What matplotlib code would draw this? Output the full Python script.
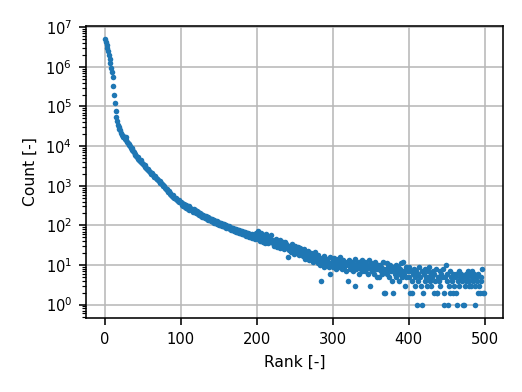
import numpy as np
import matplotlib
matplotlib.use("Agg")
import matplotlib.pyplot as plt

output_file = "out.png"

# counts per rank (rank 0 .. 499)
counts_head = [
    5000000, 4300000, 3600000, 3000000, 2500000, 2000000, 1600000, 1250000, 950000, 750000,
    560000, 320000, 200000, 120000, 75000, 53000, 42000, 34000, 30000, 27000,
    25000, 22000, 19000, 18500, 17000, 16500, 15000, 17000, 14500, 13000,
    12000, 11500, 10500, 10000, 9200, 8800, 8000, 7600, 7000, 6500,
    6000, 5600, 5200, 5400, 4800, 4500, 4200, 4400, 3900, 3700,
    3500, 3300, 3400, 3000, 2800, 2700, 2500, 2600, 2300, 2200,
    2100, 2000, 2150, 1900, 1800, 1700, 1750, 1600, 1500, 1450,
    1400, 1300, 1350, 1200, 1150, 1100, 1050, 1000, 980, 900,
    850, 820, 760, 700, 720, 650, 620, 600, 560, 580,
    530, 500, 490, 470, 480, 440, 420, 430, 400, 380,
]
counts_mid = [
    380, 330, 360, 300, 345, 290, 330, 275, 310, 260, 300, 250, 280, 240, 265, 250, 220, 255, 215, 240,
    205, 230, 190, 215, 180, 205, 170, 195, 165, 185, 160, 175, 150, 168, 145, 160, 140, 155, 135, 148,
    130, 145, 125, 138, 118, 132, 112, 128, 108, 122, 105, 118, 100, 115, 98, 110, 94, 106, 90, 102,
    88, 99, 84, 95, 80, 92, 78, 88, 75, 85, 72, 82, 70, 80, 68, 78, 66, 75, 64, 72,
    62, 74, 60, 70, 58, 68, 55, 66, 54, 64, 52, 62, 50, 60, 48, 58, 47, 56, 45, 66,
    52, 72, 45, 60, 40, 66, 43, 55, 38, 58, 46, 36, 62, 42, 49, 35, 52, 41, 56, 37,
    44, 35, 30, 40, 33, 46, 28, 38, 31, 36, 42, 27, 34, 29, 39, 32, 25, 37, 30, 33,
    28, 16, 31, 24, 27, 21, 33, 22, 26, 19, 30, 23, 25, 20, 29, 22, 18, 27, 24, 21,
    22, 17, 25, 14, 19, 21, 15, 18, 23, 13, 16, 20, 14, 17, 12, 19, 15, 21, 13, 16,
    18, 11, 14, 10, 13, 4, 15, 12, 9, 17, 11, 13, 10, 14, 12, 9, 6, 16, 11, 10,
]
counts_tail = [
    13, 9, 15, 11, 8, 12, 10, 14, 9, 11, 16, 10, 8, 12, 13, 9, 11, 10, 7, 12,
    4, 10, 13, 8, 11, 9, 12, 7, 10, 3, 14, 8, 11, 9, 6, 12, 10, 8, 13, 7,
    11, 9, 7, 12, 8, 10, 6, 9, 13, 3, 8, 11, 7, 10, 9, 6, 12, 8, 5, 10,
    8, 5, 10, 7, 9, 6, 12, 8, 2, 2, 7, 11, 6, 9, 5, 8, 10, 7, 4, 9,
    2, 8, 6, 10, 5, 7, 9, 4, 6, 8, 11, 5, 7, 12, 6, 3, 9, 5, 8, 7,
    5, 9, 2, 7, 4, 2, 6, 8, 3, 5, 7, 1, 6, 4, 9, 5, 3, 7, 1, 2,
    6, 4, 8, 5, 3, 7, 5, 9, 4, 6, 3, 5, 7, 2, 6, 4, 8, 2, 2, 5,
    4, 7, 3, 6, 5, 8, 1, 2, 5, 10, 4, 6, 1, 3, 7, 2, 5, 4, 6, 2,
    3, 5, 2, 6, 1, 4, 7, 3, 5, 6, 4, 1, 5, 1, 3, 6, 4, 5, 7, 3,
    4, 6, 3, 5, 7, 4, 6, 3, 1, 5, 4, 2, 6, 3, 2, 5, 4, 8, 2, 2,
]

counts = counts_head + counts_mid + counts_tail
ranks = np.arange(len(counts))

plt.rcParams.update({
    "font.size": 10.6,
    "axes.labelsize": 11.2,
    "axes.linewidth": 1.15,
    "axes.labelpad": 5.8,
    "grid.linewidth": 1.15,
    "grid.color": "#b8b8b8",
    "xtick.major.size": 5, "ytick.major.size": 5,
    "xtick.major.width": 1.15, "ytick.major.width": 1.15,
    "xtick.minor.size": 2.9, "ytick.minor.size": 2.9,
    "xtick.minor.width": 0.85, "ytick.minor.width": 0.85,
    "xtick.major.pad": 5, "ytick.major.pad": 5,
})

fig = plt.figure(figsize=(5.22, 3.92), dpi=100)
ax = fig.add_subplot()
fig.subplots_adjust(left=0.165, right=0.963, top=0.934, bottom=0.189)

ax.scatter(ranks, counts, s=16, color="#1f77b4", linewidths=0, zorder=3)
ax.set_yscale("log")
ax.grid(True)
ax.set_axisbelow(True)
ax.set_xlabel("Rank [-]")
ax.set_ylabel("Count [-]")

plt.savefig(output_file, dpi=100)
